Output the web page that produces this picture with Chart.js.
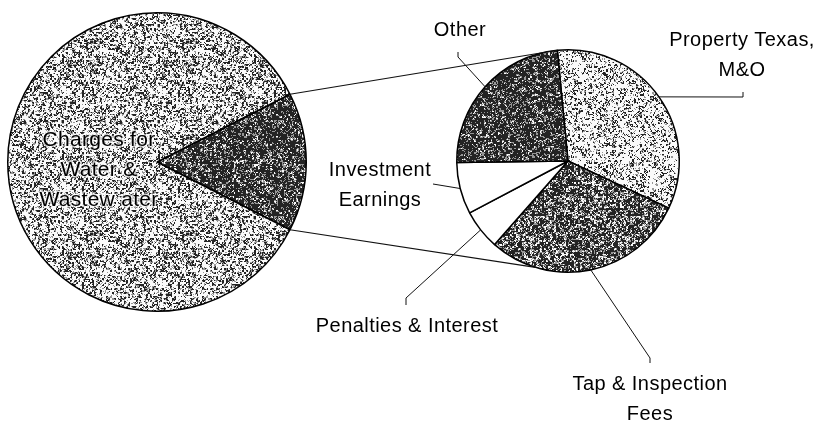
<!DOCTYPE html>
<html>
<head>
<meta charset="utf-8">
<script src="https://cdn.jsdelivr.net/npm/chart.js@4/dist/chart.umd.min.js"></script>
<style>
  html, body { margin: 0; padding: 0; background: #fff; }
  #wrap { position: relative; width: 822px; height: 423px; }
  #wrap canvas { position: absolute; left: 0; top: 0; }
</style>
</head>
<body>
<div id="wrap">
  <canvas id="bigPie" width="822" height="423"></canvas>
  <canvas id="smallPie" width="822" height="423"></canvas>
</div>
<script>
// main pie: the dark wedge is split out into the small pie
var bigLabels = ['Other revenues', 'Charges for Water & Wastewater'];
var bigValues = [15, 85];

// breakdown pie (share of the dark wedge, %)
var smallLabels = ['Property Texas, M&O', 'Tap & Inspection Fees', 'Penalties & Interest', 'Investment Earnings', 'Other'];
var smallValues = [33.5, 29.5, 5.8, 7.5, 23.7];

// callout text as printed on the chart
var bigText = ['Charges for', 'Water &', 'Wastew ater'];
var smallText = [['Property Texas,', 'M&O'], ['Tap & Inspection', 'Fees'], ['Penalties & Interest'], ['Investment', 'Earnings'], ['Other']];

// layout of callouts, relative to the small pie centre (not data)
var calloutLayout = [
  { elbow: [175, -64], tick: [175, -69], text: [174, -122] },
  { elbow: [82, 197], tick: [82, 202], text: [82, 222] },
  { elbow: [-162, 137], tick: [-162, 144], text: [-161, 164] },
  { elbow: [-135, 23], tick: null, text: [-188, 8] },
  { elbow: [-110, -104], tick: [-110, -109], text: [-108, -132] }
];

var FONT = '20px "Liberation Sans", Arial, sans-serif';
var LINE_H = 30;

// halftone-like fill, deterministic
function hash(x, y, s) {
  var h = Math.imul(x, 374761393) + Math.imul(y, 668265263) + Math.imul(s, 1442695041);
  h = Math.imul(h ^ (h >>> 13), 1274126177);
  h ^= h >>> 16;
  return (h >>> 0) / 4294967296;
}
function dither(level, seed) {
  var c = document.createElement('canvas');
  c.width = 96; c.height = 96;
  var g = c.getContext('2d');
  var img = g.createImageData(96, 96);
  for (var y = 0; y < 96; y++) {
    for (var x = 0; x < 96; x++) {
      // mix a coarse and a fine grain so it clumps a little
      var v = 0.55 * hash(x >> 1, y >> 1, seed + 1) + 0.45 * hash(x, y, seed);
      var col = v < level * 0.75 ? 35 : (v < level ? 150 : 250);
      var i = (y * 96 + x) * 4;
      img.data[i] = img.data[i + 1] = img.data[i + 2] = col;
      img.data[i + 3] = 255;
    }
  }
  g.putImageData(img, 0, 0);
  return g.createPattern(c, 'repeat');
}

var lightBig = dither(0.48, 3);
var darkBig = dither(0.80, 7);
var lightSmall = dither(0.40, 11);
var darkTap = dither(0.70, 13);
var darkOther = dither(0.82, 17);

var bigChart = new Chart(document.getElementById('bigPie'), {
  type: 'pie',
  data: {
    labels: bigLabels,
    datasets: [{
      data: bigValues,
      backgroundColor: [darkBig, lightBig],
      borderColor: '#000',
      borderWidth: 1.5
    }]
  },
  options: {
    responsive: false,
    animation: false,
    events: [],
    rotation: 63,
    layout: { padding: { left: 7, top: 12, right: 515, bottom: 111 } },
    plugins: { legend: { display: false }, tooltip: { enabled: false } }
  },
  plugins: [{
    id: 'bigText',
    afterDraw: function (chart) {
      var arc = chart.getDatasetMeta(0).data[0];
      var ctx = chart.ctx;
      ctx.save();
      ctx.font = '21px "Liberation Sans", Arial, sans-serif';
      ctx.letterSpacing = '0.3px';
      ctx.textAlign = 'center';
      ctx.textBaseline = 'alphabetic';
      ctx.lineJoin = 'round';
      ctx.strokeStyle = 'rgba(255,255,255,0.75)';
      ctx.lineWidth = 3;
      ctx.fillStyle = '#000';
      bigText.forEach(function (t, i) {
        var y = arc.y - 24 + i * LINE_H + 8;
        ctx.strokeText(t, arc.x - 58, y);
        ctx.fillText(t, arc.x - 58, y);
      });
      ctx.restore();
    }
  }]
});

function edgePoint(arc, ang, r) {
  return [arc.x + r * Math.cos(ang), arc.y + r * Math.sin(ang)];
}

var smallChart = new Chart(document.getElementById('smallPie'), {
  type: 'pie',
  data: {
    labels: smallLabels,
    datasets: [{
      data: smallValues,
      backgroundColor: [lightSmall, darkTap, '#ffffff', '#ffffff', darkOther],
      borderColor: '#000',
      borderWidth: 1.5
    }]
  },
  options: {
    responsive: false,
    animation: false,
    events: [],
    rotation: -5.5,
    layout: { padding: { left: 456, top: 49, right: 142, bottom: 150 } },
    plugins: { legend: { display: false }, tooltip: { enabled: false } }
  },
  plugins: [{
    id: 'connectors',
    afterDraw: function (chart) {
      var ctx = chart.ctx;
      var big = bigChart.getDatasetMeta(0).data[0];
      var arcs = chart.getDatasetMeta(0).data;
      var s0 = arcs[0];
      var R = s0.outerRadius;
      ctx.save();
      ctx.strokeStyle = '#111';
      ctx.lineWidth = 1.2;
      // pie-of-pie connector lines
      var a = edgePoint(big, big.startAngle, big.outerRadius);
      var b = edgePoint(s0, s0.startAngle, R);
      var c = edgePoint(big, big.endAngle, big.outerRadius);
      var d = edgePoint(s0, (197 - 90) * Math.PI / 180, R);
      ctx.beginPath();
      ctx.moveTo(a[0], a[1]); ctx.lineTo(b[0], b[1]);
      ctx.moveTo(c[0], c[1]); ctx.lineTo(d[0], d[1]);
      ctx.stroke();

      // leader lines + labels
      ctx.lineWidth = 1;
      ctx.font = FONT;
      ctx.letterSpacing = '0.45px';
      ctx.fillStyle = '#000';
      ctx.textAlign = 'center';
      ctx.textBaseline = 'alphabetic';
      arcs.forEach(function (arc, i) {
        var L = calloutLayout[i];
        var mid = (arc.startAngle + arc.endAngle) / 2;
        var p = edgePoint(arc, mid, R);
        ctx.beginPath();
        ctx.moveTo(p[0], p[1]);
        ctx.lineTo(arc.x + L.elbow[0], arc.y + L.elbow[1]);
        if (L.tick) ctx.lineTo(arc.x + L.tick[0], arc.y + L.tick[1]);
        ctx.stroke();
        smallText[i].forEach(function (t, j) {
          ctx.fillText(t, arc.x + L.text[0], arc.y + L.text[1] + j * LINE_H + 7);
        });
      });
      ctx.restore();
    }
  }]
});
</script>
</body>
</html>
